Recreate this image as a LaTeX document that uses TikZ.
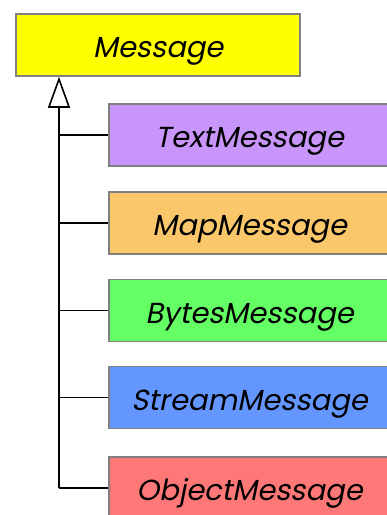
\documentclass[tikz,border=0pt]{standalone}
\usepackage{fontspec}
\newfontfamily\popfont[FakeSlant=0.2]{Poppins}
\usetikzlibrary{arrows.meta}
\definecolor{cYellow}{RGB}{255,255,0}
\definecolor{cPurple}{RGB}{200,150,250}
\definecolor{cOrange}{RGB}{250,200,106}
\definecolor{cGreen}{RGB}{100,255,100}
\definecolor{cBlue}{RGB}{100,150,255}
\definecolor{cRed}{RGB}{255,120,120}
\definecolor{cBorder}{RGB}{128,128,128}
\tikzset{
  classbox/.style={draw=cBorder, line width=1.6pt, rectangle, inner sep=0pt,
    minimum height=62pt, text height=25pt, text depth=0pt,
    font=\fontsize{29}{33}\selectfont\popfont},
  subbox/.style={classbox, minimum width=281pt},
  link/.style={line width=1.8pt, black},
}
\begin{document}
\begin{tikzpicture}[x=1pt,y=-1pt]
\useasboundingbox (0,0) rectangle (387,515);
\clip (0,0) rectangle (387,515);
\node[classbox, fill=cYellow, minimum width=284pt] (msg) at (158,45) {Message};
\node[subbox, fill=cPurple] (text) at (249.5,135) {TextMessage};
\node[subbox, fill=cOrange] (map) at (249.5,223) {MapMessage};
\node[subbox, fill=cGreen] (bytes) at (249.5,310.5) {BytesMessage};
\node[subbox, fill=cBlue] (stream) at (249.5,397.5) {StreamMessage};
\node[subbox, fill=cRed] (object) at (249.5,488) {ObjectMessage};
\coordinate (tip) at (59,0 |- msg.south);
\coordinate (tbot) at (59,0 |- object.west);
\draw[link, -{Triangle[open, length=31pt, width=22pt, line width=1.6pt]}] (tbot) -- (tip);
\foreach \n in {text,map,bytes,stream,object}
  \draw[link] (\n.west) -- (\n.west -| tip);
\end{tikzpicture}
\end{document}
